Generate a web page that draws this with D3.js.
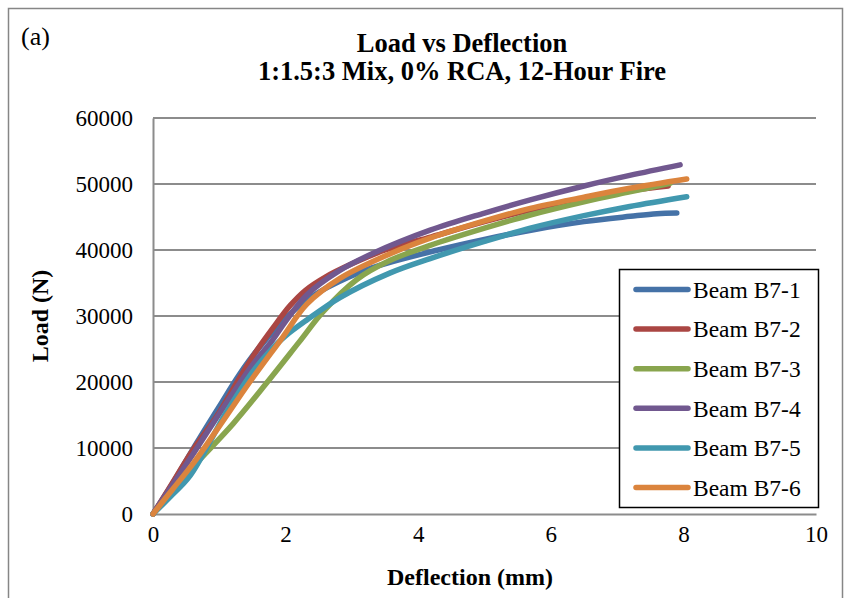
<!DOCTYPE html>
<html>
<head>
<meta charset="utf-8">
<script src="https://cdn.jsdelivr.net/npm/d3@7"></script>
<style>
  html, body { margin: 0; padding: 0; background: #fff; }
  svg { display: block; }
  text { font-family: "Liberation Serif", "Times New Roman", serif; fill: #000; }
</style>
</head>
<body>
<svg id="chart" width="845" height="598"></svg>
<script>
// ---- data ----
const seriesNames = ["Beam B7-1", "Beam B7-2", "Beam B7-3", "Beam B7-4", "Beam B7-5", "Beam B7-6"];
const xTicks = [0, 2, 4, 6, 8, 10];
const yTicks = [0, 10000, 20000, 30000, 40000, 50000, 60000];

// [deflection (mm), load (N)]
const beamB7_1 = [[0,0],[0.3,4700],[0.6,9800],[1.0,16300],[1.3,21100],[1.6,25200],[1.9,28600],[2.2,31500],[2.5,33600],[2.8,35200],[3.3,37300],[4.3,40000],[5.0,41600],[5.7,43000],[6.5,44300],[7.2,45100],[7.6,45500],[7.9,45600]];
const beamB7_2 = [[0,0],[0.3,4800],[0.6,9700],[0.96,14800],[1.31,20700],[1.56,24700],[1.81,28200],[2.07,31600],[2.3,33900],[2.6,35900],[3.0,37900],[3.5,40000],[4.2,42000],[5.0,44300],[5.7,46100],[6.5,47800],[7.2,49000],[7.77,49700]];
const beamB7_3 = [[0,0],[0.3,3600],[0.61,7200],[1.21,13700],[1.71,19800],[2.2,26000],[2.57,30700],[3.07,35500],[3.57,38400],[4.18,40700],[5.0,43300],[5.69,45300],[6.5,47300],[7.19,48800],[7.8,50100]];
const beamB7_4 = [[0,0],[0.3,4500],[0.6,9000],[1.0,15200],[1.5,22600],[1.8,26300],[2.0,29200],[2.32,33200],[2.8,36800],[3.32,39500],[4.18,43000],[5.0,45600],[5.69,47600],[6.5,49700],[7.19,51300],[7.95,52900]];
const beamB7_5 = [[0,0],[0.26,2600],[0.56,5800],[1.1,15300],[1.5,21500],[1.8,25100],[2.0,27000],[2.32,29400],[2.82,32800],[3.57,36500],[4.18,38700],[5.0,41300],[5.69,43300],[6.5,45200],[7.19,46600],[8.05,48080]];
const beamB7_6 = [[0,0],[0.3,3800],[0.61,7700],[0.96,12700],[1.46,20000],[1.95,26700],[2.32,31800],[2.82,35700],[3.57,39400],[4.18,41800],[5.0,44400],[5.69,46300],[6.5,48000],[7.19,49350],[8.05,50760]];
const seriesData = [beamB7_1, beamB7_2, beamB7_3, beamB7_4, beamB7_5, beamB7_6];
const seriesColors = ["#4572A7", "#AA4643", "#89A54E", "#71588F", "#4198AF", "#DB843D"];

// ---- layout ----
const svg = d3.select("#chart");
const plot = { left: 153, right: 816, top: 118, bottom: 514 };
const x = d3.scaleLinear().domain([0, 10]).range([plot.left, plot.right]);
const y = d3.scaleLinear().domain([0, 60000]).range([plot.bottom, plot.top]);

// outer frame
svg.append("rect")
  .attr("x", 8.5).attr("y", 8.5).attr("width", 834).attr("height", 620)
  .attr("fill", "#fff").attr("stroke", "#868686").attr("stroke-width", 1.5);

// gridlines
svg.append("g").selectAll("line").data(yTicks.filter(d => d > 0)).join("line")
  .attr("x1", plot.left).attr("x2", plot.right)
  .attr("y1", d => y(d)).attr("y2", d => y(d))
  .attr("stroke", "#8c8c8c").attr("stroke-width", 2);

// axes (no tick marks)
const yAxis = d3.axisLeft(y).tickValues(yTicks).tickSize(0).tickPadding(20).tickFormat(d3.format("d"));
const xAxis = d3.axisBottom(x).tickValues(xTicks).tickSize(0).tickPadding(12).tickFormat(d3.format("d"));

const gy = svg.append("g").attr("transform", `translate(${plot.left},0)`).call(yAxis);
const gx = svg.append("g").attr("transform", `translate(0,${plot.bottom})`).call(xAxis);
[gx, gy].forEach(g => {
  g.select(".domain").attr("stroke", "#8c8c8c").attr("stroke-width", 2);
  g.selectAll("text").attr("font-family", "Liberation Serif, Times New Roman, serif")
    .attr("font-size", 23).attr("fill", "#000");
});

// lines
const line = d3.line().x(d => x(d[0])).y(d => y(d[1])).curve(d3.curveCatmullRom.alpha(0.5));
svg.append("g").selectAll("path").data(seriesData).join("path")
  .attr("d", line)
  .attr("fill", "none")
  .attr("stroke", (d, i) => seriesColors[i])
  .attr("stroke-width", 5.5)
  .attr("stroke-linecap", "round")
  .attr("stroke-linejoin", "round");

// titles
svg.append("text").attr("x", 21).attr("y", 45).attr("font-size", 26).text("(a)");
svg.append("text").attr("x", 462).attr("y", 52).attr("text-anchor", "middle")
  .attr("font-size", 26.5).attr("font-weight", "bold").text("Load vs Deflection");
svg.append("text").attr("x", 462).attr("y", 80).attr("text-anchor", "middle")
  .attr("font-size", 26.5).attr("font-weight", "bold").text("1:1.5:3 Mix, 0% RCA, 12-Hour Fire");

svg.append("text").attr("x", 470).attr("y", 585).attr("text-anchor", "middle")
  .attr("font-size", 24).attr("font-weight", "bold").text("Deflection (mm)");
svg.append("text").attr("transform", `translate(48,${(plot.top + plot.bottom) / 2}) rotate(-90)`)
  .attr("text-anchor", "middle").attr("font-size", 24).attr("font-weight", "bold").text("Load (N)");

// legend
const lg = svg.append("g");
lg.append("rect").attr("x", 619.5).attr("y", 269.5).attr("width", 199).attr("height", 238)
  .attr("fill", "#fff").attr("stroke", "#000").attr("stroke-width", 1.5);
const rowY = d3.scalePoint().domain(seriesNames).range([289.5, 487.5]);
const items = lg.selectAll("g.item").data(seriesNames).join("g").attr("class", "item");
items.append("line")
  .attr("x1", 636).attr("x2", 688)
  .attr("y1", d => rowY(d)).attr("y2", d => rowY(d))
  .attr("stroke", (d, i) => seriesColors[i]).attr("stroke-width", 5.5).attr("stroke-linecap", "round");
items.append("text")
  .attr("x", 693).attr("y", d => rowY(d)).attr("dy", "0.35em")
  .attr("font-size", 23.5).text(d => d);
</script>
</body>
</html>
